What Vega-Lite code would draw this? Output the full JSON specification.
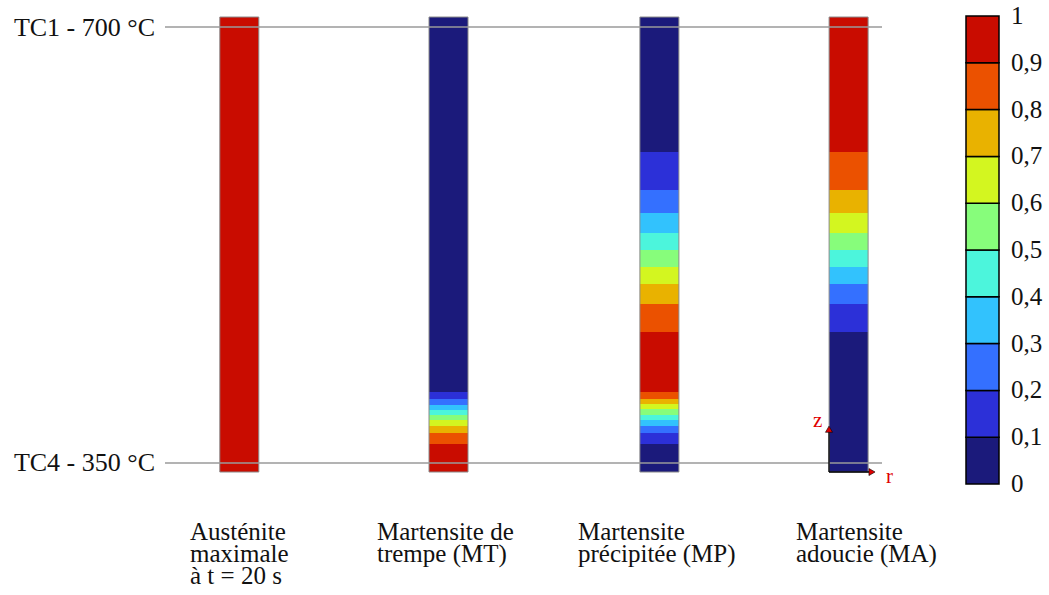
{
  "$schema": "https://vega.github.io/schema/vega-lite/v6.json",
  "width": 1049,
  "height": 595,
  "padding": 0,
  "autosize": {"type": "none"},
  "background": "white",
  "config": {"view": {"stroke": null}, "font": "Liberation Serif", "text": {"font": "Liberation Serif"}},
  "datasets": {
    "segments": [
      {"specimen": "A", "r": 239.3, "z0": 0, "z1": 100, "v": 0.95},
      {"specimen": "MT", "r": 448.5, "z0": 17.58, "z1": 100, "v": 0.05},
      {"specimen": "MT", "r": 448.5, "z0": 16.04, "z1": 17.58, "v": 0.15},
      {"specimen": "MT", "r": 448.5, "z0": 14.73, "z1": 16.04, "v": 0.25},
      {"specimen": "MT", "r": 448.5, "z0": 13.63, "z1": 14.73, "v": 0.35},
      {"specimen": "MT", "r": 448.5, "z0": 12.53, "z1": 13.63, "v": 0.45},
      {"specimen": "MT", "r": 448.5, "z0": 11.43, "z1": 12.53, "v": 0.55},
      {"specimen": "MT", "r": 448.5, "z0": 10.11, "z1": 11.43, "v": 0.65},
      {"specimen": "MT", "r": 448.5, "z0": 8.57, "z1": 10.11, "v": 0.75},
      {"specimen": "MT", "r": 448.5, "z0": 6.15, "z1": 8.57, "v": 0.85},
      {"specimen": "MT", "r": 448.5, "z0": 0, "z1": 6.15, "v": 0.95},
      {"specimen": "MP", "r": 659.4, "z0": 70.33, "z1": 100, "v": 0.05},
      {"specimen": "MP", "r": 659.4, "z0": 61.98, "z1": 70.33, "v": 0.15},
      {"specimen": "MP", "r": 659.4, "z0": 56.92, "z1": 61.98, "v": 0.25},
      {"specimen": "MP", "r": 659.4, "z0": 52.53, "z1": 56.92, "v": 0.35},
      {"specimen": "MP", "r": 659.4, "z0": 48.79, "z1": 52.53, "v": 0.45},
      {"specimen": "MP", "r": 659.4, "z0": 45.05, "z1": 48.79, "v": 0.55},
      {"specimen": "MP", "r": 659.4, "z0": 41.32, "z1": 45.05, "v": 0.65},
      {"specimen": "MP", "r": 659.4, "z0": 36.92, "z1": 41.32, "v": 0.75},
      {"specimen": "MP", "r": 659.4, "z0": 30.77, "z1": 36.92, "v": 0.85},
      {"specimen": "MP", "r": 659.4, "z0": 17.58, "z1": 30.77, "v": 0.95},
      {"specimen": "MP", "r": 659.4, "z0": 16.04, "z1": 17.58, "v": 0.85},
      {"specimen": "MP", "r": 659.4, "z0": 14.95, "z1": 16.04, "v": 0.75},
      {"specimen": "MP", "r": 659.4, "z0": 13.85, "z1": 14.95, "v": 0.65},
      {"specimen": "MP", "r": 659.4, "z0": 12.53, "z1": 13.85, "v": 0.55},
      {"specimen": "MP", "r": 659.4, "z0": 11.43, "z1": 12.53, "v": 0.45},
      {"specimen": "MP", "r": 659.4, "z0": 10.11, "z1": 11.43, "v": 0.35},
      {"specimen": "MP", "r": 659.4, "z0": 8.57, "z1": 10.11, "v": 0.25},
      {"specimen": "MP", "r": 659.4, "z0": 6.15, "z1": 8.57, "v": 0.15},
      {"specimen": "MP", "r": 659.4, "z0": 0, "z1": 6.15, "v": 0.05},
      {"specimen": "MA", "r": 848.6, "z0": 70.33, "z1": 100, "v": 0.95},
      {"specimen": "MA", "r": 848.6, "z0": 61.98, "z1": 70.33, "v": 0.85},
      {"specimen": "MA", "r": 848.6, "z0": 56.92, "z1": 61.98, "v": 0.75},
      {"specimen": "MA", "r": 848.6, "z0": 52.53, "z1": 56.92, "v": 0.65},
      {"specimen": "MA", "r": 848.6, "z0": 48.79, "z1": 52.53, "v": 0.55},
      {"specimen": "MA", "r": 848.6, "z0": 45.05, "z1": 48.79, "v": 0.45},
      {"specimen": "MA", "r": 848.6, "z0": 41.32, "z1": 45.05, "v": 0.35},
      {"specimen": "MA", "r": 848.6, "z0": 36.92, "z1": 41.32, "v": 0.25},
      {"specimen": "MA", "r": 848.6, "z0": 30.77, "z1": 36.92, "v": 0.15},
      {"specimen": "MA", "r": 848.6, "z0": 0, "z1": 30.77, "v": 0.05}
    ],
    "specimens": [
      {"specimen": "A", "r": 239.3, "caption": "Austénite\nmaximale\nà t = 20 s", "cr": 190},
      {"specimen": "MT", "r": 448.5, "caption": "Martensite de\ntrempe (MT)", "cr": 377},
      {"specimen": "MP", "r": 659.4, "caption": "Martensite\nprécipitée (MP)", "cr": 578},
      {"specimen": "MA", "r": 848.6, "caption": "Martensite\nadoucie (MA)", "cr": 796}
    ],
    "tc": [
      {"label": "TC1 - 700 °C", "z": 97.8},
      {"label": "TC4 - 350 °C", "z": 2.0}
    ],
    "legend": [
      {"v0": 0.0, "v1": 0.1, "v": 0.05},
      {"v0": 0.1, "v1": 0.2, "v": 0.15},
      {"v0": 0.2, "v1": 0.3, "v": 0.25},
      {"v0": 0.3, "v1": 0.4, "v": 0.35},
      {"v0": 0.4, "v1": 0.5, "v": 0.45},
      {"v0": 0.5, "v1": 0.6, "v": 0.55},
      {"v0": 0.6, "v1": 0.7, "v": 0.65},
      {"v0": 0.7, "v1": 0.8, "v": 0.75},
      {"v0": 0.8, "v1": 0.9, "v": 0.85},
      {"v0": 0.9, "v1": 1.0, "v": 0.95}
    ],
    "ticks": [
      {"t": 0, "label": "0"},
      {"t": 0.1, "label": "0,1"},
      {"t": 0.2, "label": "0,2"},
      {"t": 0.3, "label": "0,3"},
      {"t": 0.4, "label": "0,4"},
      {"t": 0.5, "label": "0,5"},
      {"t": 0.6, "label": "0,6"},
      {"t": 0.7, "label": "0,7"},
      {"t": 0.8, "label": "0,8"},
      {"t": 0.9, "label": "0,9"},
      {"t": 1, "label": "1"}
    ]
  },
  "layer": [
    {
      "layer": [
        {
          "data": {"name": "segments"},
          "mark": {"type": "bar", "width": 39},
          "encoding": {
            "x": {"field": "r", "type": "quantitative", "scale": {"domain": [0, 1049], "nice": false, "zero": false, "padding": 0}, "axis": null},
            "y": {"field": "z0", "type": "quantitative", "scale": {"domain": [-27.03, 103.74], "nice": false, "zero": false, "padding": 0}, "axis": null},
            "y2": {"field": "z1"},
            "color": {
              "field": "v", "type": "quantitative", "legend": null,
              "scale": {"type": "threshold", "domain": [0.1, 0.2, 0.3, 0.4, 0.5, 0.6, 0.7, 0.8, 0.9],
                "range": ["#1b1a7b", "#2c30d8", "#3470ff", "#32c2fd", "#4cf5dc", "#87fd7b", "#d3f620", "#e9b200", "#eb5100", "#c90c00"]}
            }
          }
        },
        {
          "data": {"name": "specimens"},
          "mark": {"type": "bar", "width": 39, "fillOpacity": 0, "stroke": "#8a8a8a", "strokeWidth": 1},
          "encoding": {
            "x": {"field": "r", "type": "quantitative"},
            "y": {"datum": 0, "type": "quantitative"},
            "y2": {"datum": 100}
          }
        },
        {
          "data": {"name": "tc"},
          "mark": {"type": "rule", "color": "#9a9a9a", "strokeWidth": 1.5},
          "encoding": {
            "x": {"datum": 165, "type": "quantitative"},
            "x2": {"datum": 882},
            "y": {"field": "z", "type": "quantitative"}
          }
        },
        {
          "data": {"name": "tc"},
          "mark": {"type": "text", "font": "Liberation Serif", "align": "right", "baseline": "alphabetic", "dy": 8.5, "fontSize": 26, "color": "#111"},
          "encoding": {
            "x": {"datum": 155, "type": "quantitative"},
            "y": {"field": "z", "type": "quantitative"},
            "text": {"field": "label"}
          }
        },
        {
          "data": {"name": "specimens"},
          "mark": {"type": "text", "font": "Liberation Serif", "align": "left", "baseline": "alphabetic", "lineBreak": "\n", "lineHeight": 22, "fontSize": 25, "color": "#111"},
          "encoding": {
            "x": {"field": "cr", "type": "quantitative"},
            "y": {"datum": -14.9, "type": "quantitative"},
            "text": {"field": "caption"}
          }
        },
        {
          "data": {"values": [{}]},
          "mark": {"type": "rule", "color": "black", "strokeWidth": 1.3},
          "encoding": {
            "x": {"datum": 829, "type": "quantitative"},
            "y": {"datum": 0, "type": "quantitative"},
            "y2": {"datum": 9.4}
          }
        },
        {
          "data": {"values": [{}]},
          "mark": {"type": "rule", "color": "black", "strokeWidth": 1.3},
          "encoding": {
            "x": {"datum": 829, "type": "quantitative"},
            "x2": {"datum": 871},
            "y": {"datum": 0, "type": "quantitative"}
          }
        },
        {
          "data": {"values": [{}]},
          "mark": {"type": "point", "shape": "triangle-up", "size": 50, "filled": true, "fill": "#e00000", "stroke": "black", "strokeWidth": 0.6, "opacity": 1},
          "encoding": {
            "x": {"datum": 829, "type": "quantitative"},
            "y": {"datum": 9.4, "type": "quantitative"}
          }
        },
        {
          "data": {"values": [{}]},
          "mark": {"type": "point", "shape": "triangle-right", "size": 50, "filled": true, "fill": "#e00000", "stroke": "black", "strokeWidth": 0.6, "opacity": 1},
          "encoding": {
            "x": {"datum": 872, "type": "quantitative"},
            "y": {"datum": 0, "type": "quantitative"}
          }
        },
        {
          "data": {"values": [{"label": "z", "lr": 813, "lz": 9.9}, {"label": "r", "lr": 886, "lz": -2.4}]},
          "mark": {"type": "text", "font": "Liberation Serif", "align": "left", "baseline": "alphabetic", "fontSize": 21, "color": "#e00000"},
          "encoding": {
            "x": {"field": "lr", "type": "quantitative"},
            "y": {"field": "lz", "type": "quantitative"},
            "text": {"field": "label"}
          }
        }
      ]
    },
    {
      "layer": [
        {
          "data": {"name": "legend"},
          "mark": {"type": "rect", "stroke": "black", "strokeWidth": 1.5},
          "encoding": {
            "x": {"datum": 966, "type": "quantitative"},
            "x2": {"datum": 999},
            "y": {"field": "v0", "type": "quantitative", "scale": {"domain": [-0.2372, 1.0342], "nice": false, "zero": false, "padding": 0}, "axis": null},
            "y2": {"field": "v1"},
            "color": {
              "field": "v", "type": "quantitative", "legend": null,
              "scale": {"type": "threshold", "domain": [0.1, 0.2, 0.3, 0.4, 0.5, 0.6, 0.7, 0.8, 0.9],
                "range": ["#1b1a7b", "#2c30d8", "#3470ff", "#32c2fd", "#4cf5dc", "#87fd7b", "#d3f620", "#e9b200", "#eb5100", "#c90c00"]}
            }
          }
        },
        {
          "data": {"name": "ticks"},
          "mark": {"type": "text", "font": "Liberation Serif", "align": "left", "baseline": "alphabetic", "dy": 8, "fontSize": 25, "color": "#111"},
          "encoding": {
            "x": {"datum": 1011, "type": "quantitative"},
            "y": {"field": "t", "type": "quantitative"},
            "text": {"field": "label"}
          }
        }
      ]
    }
  ],
  "resolve": {"scale": {"y": "independent"}}
}
